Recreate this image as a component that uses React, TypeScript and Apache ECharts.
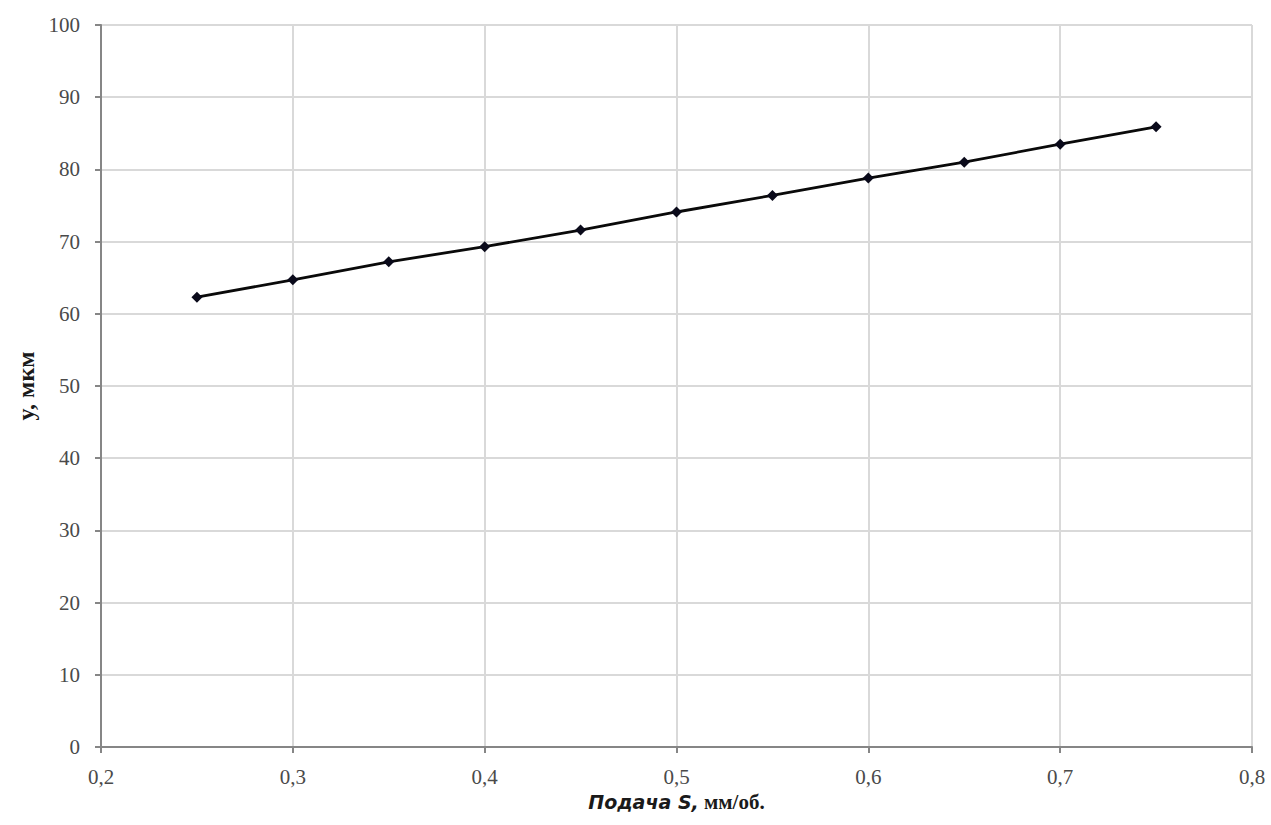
import React, { useEffect, useRef } from "react";
import * as echarts from "echarts";

const feedS = [0.25, 0.3, 0.35, 0.4, 0.45, 0.5, 0.55, 0.6, 0.65, 0.7, 0.75];
const yMkm = [62.3, 64.7, 67.2, 69.3, 71.6, 74.1, 76.4, 78.8, 81.0, 83.5, 85.9];

const xTitleItalic = "Подача S,";
const xTitleRest = " мм/об.";
const yTitle = "y, мкм";

export default function App() {
  const ref = useRef<HTMLDivElement>(null);
  useEffect(() => {
    if (!ref.current) return;
    const chart = echarts.init(ref.current, null, { renderer: "svg" });
    const serif = "'Liberation Serif', 'Times New Roman', serif";
    chart.setOption({
      animation: false,
      backgroundColor: "#ffffff",
      grid: { left: 101, right: 19, top: 25, bottom: 78, containLabel: false },
      xAxis: {
        type: "value",
        min: 0.2,
        max: 0.8,
        interval: 0.1,
        name: `{i|${xTitleItalic}}{r|${xTitleRest}}`,
        nameLocation: "middle",
        nameGap: 41,
        nameTextStyle: {
          rich: {
            i: { fontFamily: "'DejaVu Sans', sans-serif", fontStyle: "italic", fontWeight: "bold", fontSize: 19, color: "#1a1a1a" },
            r: { fontFamily: serif, fontWeight: "bold", fontSize: 21, color: "#1a1a1a" },
          },
        },
        axisLine: { show: true, lineStyle: { color: "#868686", width: 2 } },
        axisTick: { show: true, length: 6, lineStyle: { color: "#868686", width: 2 } },
        axisLabel: {
          fontFamily: serif,
          fontSize: 21,
          color: "#4a4a4a",
          margin: 19,
          formatter: (v: number) => v.toFixed(1).replace(".", ","),
        },
        splitLine: { show: true, lineStyle: { color: "#d9d9d9", width: 2 } },
      },
      yAxis: {
        type: "value",
        min: 0,
        max: 100,
        interval: 10,
        name: yTitle,
        nameLocation: "middle",
        nameGap: 62,
        nameTextStyle: { fontFamily: serif, fontWeight: "bold", fontSize: 24, color: "#1a1a1a" },
        axisLine: { show: true, lineStyle: { color: "#868686", width: 2 } },
        axisTick: { show: true, length: 6, lineStyle: { color: "#868686", width: 2 } },
        axisLabel: { fontFamily: serif, fontSize: 21, color: "#4a4a4a", margin: 21 },
        splitLine: { show: true, lineStyle: { color: "#d9d9d9", width: 2 } },
      },
      series: [
        {
          type: "line",
          data: feedS.map((x, i) => [x, yMkm[i]]),
          symbol: "diamond",
          symbolSize: 11,
          itemStyle: { color: "#0a0a1a" },
          lineStyle: { color: "#0a0a0a", width: 2.8 },
        },
      ],
    });
    return () => chart.dispose();
  }, []);
  return (
    <div
      ref={ref}
      style={{ position: "absolute", left: 0, top: 0, width: 1271, height: 825 }}
    />
  );
}
